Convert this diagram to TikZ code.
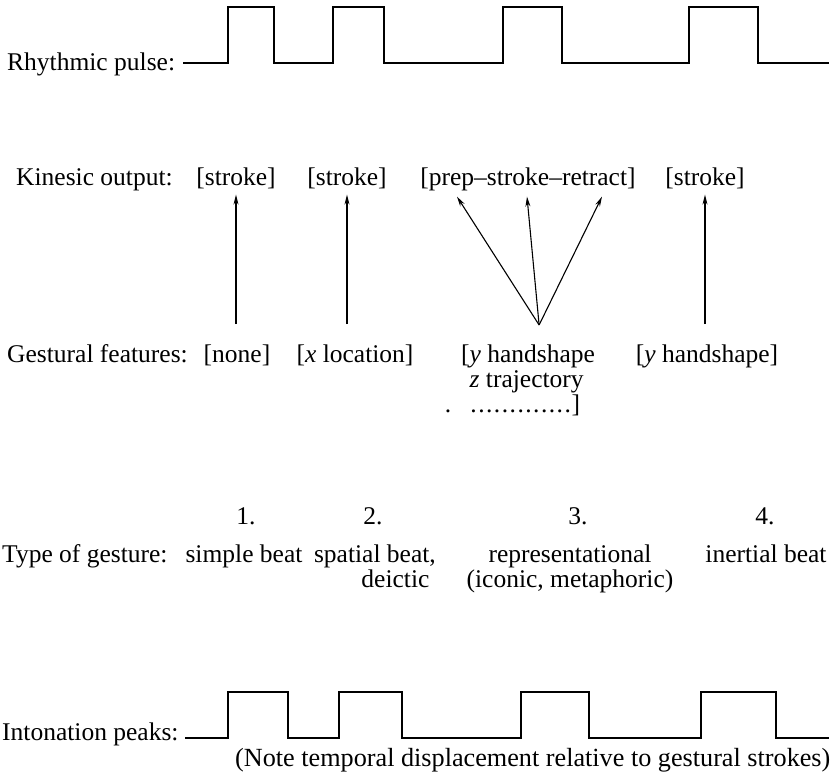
\documentclass[tikz,border=0pt]{standalone}
\usepackage{fontspec}
\setmainfont{Liberation Serif}
\usetikzlibrary{arrows.meta}

% spaced dots for the open feature list
\newcommand{\gapdots}{\hbox to 102pt{\xleaders\hbox to 7.8pt{\hss.\hss}\hfill}}

\begin{document}
\begin{tikzpicture}[x=1pt, y=-1pt, every node/.style={font=\fontsize{25.5}{25}\selectfont, inner sep=0pt}]
    % Common Styles
    \tikzset{pulse/.style={line width=1.8pt}}
    \tikzset{arr/.style={-{Stealth[length=10pt, width=5pt]}, line width=1.1pt}}
    \tikzset{rowname/.style={anchor=base west}}
    \tikzset{entry/.style={anchor=base}}
    \tikzset{kin/.style={entry, inner ysep=6pt}}
    \tikzset{feat/.style={inner ysep=20pt}}

    \useasboundingbox (0,0) rectangle (831,772);

    % 1. Rhythmic pulse
    \node[rowname] (rhythm) at (7,70) {Rhythmic pulse:};
    \draw[pulse] (183,63) -- (228,63) -- (228,7) -- (274,7) -- (274,63) -- (333,63) -- (333,7) -- (384,7) -- (384,63)
        -- (503,63) -- (503,7) -- (562,7) -- (562,63) -- (689,63) -- (689,7) -- (758,7) -- (758,63) -- (829,63);

    % 2. Kinesic output
    \node[rowname] (kinesic) at (16,185) {Kinesic output:};
    \node[kin] (st1) at (236,185) {[stroke]};
    \node[kin] (st2) at (347,185) {[stroke]};
    \node[kin] (prep) at (528,185) {[prep--stroke--retract]};
    \node[kin] (st4) at (705,185) {[stroke]};

    % 3. Gestural features
    \node[rowname] (gestural) at (7,362) {Gestural features:};
    \node[entry, feat] (ft1) at (237,362) {[none]};
    \node[entry, feat] (ft2) at (355,362) {[\textit{x} location]};
    \node[feat, anchor=north west, align=left] (ft3) at (461,325)
        {[\textit{y} handshape\\ \phantom{[}\textit{z} trajectory\\ \llap{.\hspace{10pt}}\phantom{[}\gapdots]};
    \node[entry, feat] (ft4) at (707,362) {[\textit{y} handshape]};
    \coordinate (fan) at ([xshift=11pt]ft3.north);

    \draw[arr] (ft1.north -| st1.south) -- (st1.south);
    \draw[arr] (ft2.north -| st2.south) -- (st2.south);
    \draw[arr] (fan) -- ([xshift=-71pt]prep.south);
    \draw[arr] (fan) -- ([xshift=-1pt]prep.south);
    \draw[arr] (fan) -- ([xshift=74pt]prep.south);
    \draw[arr] (ft4.north -| st4.south) -- (st4.south);

    % 4. Type of gesture
    \node[entry] (n1) at (246,524) {1.};
    \node[entry] (n2) at (373,524) {2.};
    \node[entry] (n3) at (578,524) {3.};
    \node[entry] (n4) at (765,524) {4.};
    \node[rowname] (gtype) at (2,562) {Type of gesture:};
    \node[entry] (g1) at (244,562) {simple beat};
    \node[anchor=north east, align=right] (g2) at (436,545) {spatial beat,\\deictic\hphantom{,}};
    \node[anchor=north, align=center] (g3) at (570,545) {representational\\(iconic, metaphoric)};
    \node[entry] (g4) at (766,562) {inertial beat};

    % 5. Intonation peaks
    \node[rowname] (inton) at (2,740) {Intonation peaks:};
    \draw[pulse] (185,738) -- (228,738) -- (228,692) -- (288,692) -- (288,738) -- (339,738) -- (339,692) -- (402,692) -- (402,738)
        -- (521,738) -- (521,692) -- (589,692) -- (589,738) -- (701,738) -- (701,692) -- (776,692) -- (776,738) -- (829,738);
    \node[rowname, font=\fontsize{26.2}{26}\selectfont] (note) at (235,766) {(Note temporal displacement relative to gestural strokes)};
\end{tikzpicture}
\end{document}
